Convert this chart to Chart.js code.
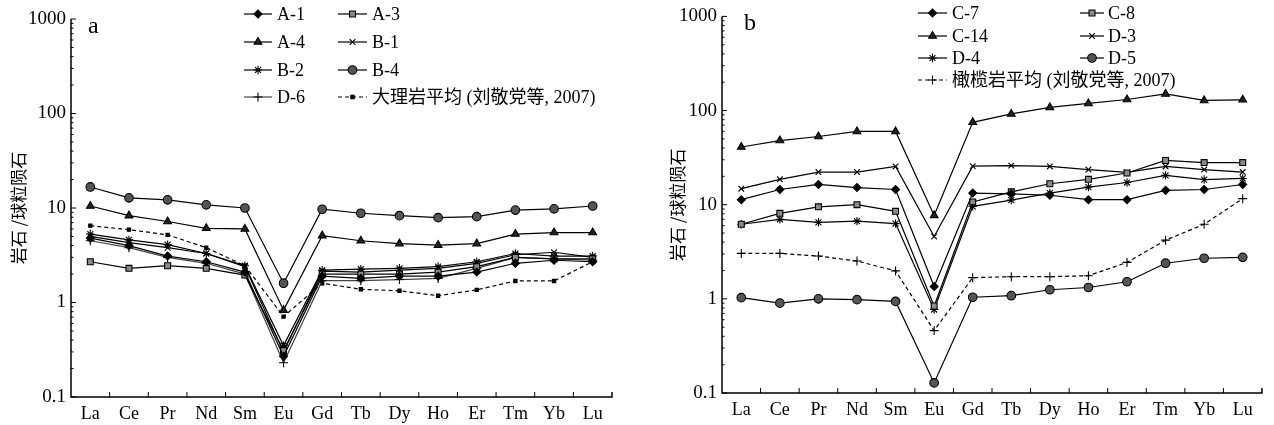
<!DOCTYPE html>
<html>
<head>
<meta charset="utf-8">
<script src="https://cdn.jsdelivr.net/npm/chart.js@4.4.1/dist/chart.umd.min.js"></script>
<style>
  html, body { margin: 0; padding: 0; background: #fff; }
  .panel { position: absolute; top: 0; width: 637px; height: 425px; }
  #pa { left: 0; }
  #pb { left: 637px; }
</style>
</head>
<body>
<div class="panel" id="pa"><canvas id="chartA"></canvas></div>
<div class="panel" id="pb"><canvas id="chartB"></canvas></div>
<script>
// REE elements (x categories)
const ELEMENTS = ['La', 'Ce', 'Pr', 'Nd', 'Sm', 'Eu', 'Gd', 'Tb', 'Dy', 'Ho', 'Er', 'Tm', 'Yb', 'Lu'];
const Y_TICKS = [0.1, 1, 10, 100, 1000];

// panel a: marble samples
const A1 = [4.8, 4.0, 3.1, 2.7, 2.1, 0.27, 1.9, 1.8, 1.9, 1.9, 2.1, 2.6, 2.8, 2.7];
const A3 = [2.7, 2.3, 2.45, 2.3, 1.95, 0.31, 2.0, 2.0, 2.0, 2.1, 2.4, 3.0, 2.9, 2.9];
const A4 = [10.5, 8.3, 7.2, 6.1, 6.0, 0.83, 5.1, 4.5, 4.2, 4.05, 4.2, 5.3, 5.5, 5.5];
const B1 = [5.0, 4.3, 3.8, 3.3, 2.4, 0.30, 2.15, 2.1, 2.2, 2.3, 2.6, 3.2, 3.4, 3.0];
const B2 = [5.3, 4.6, 4.1, 3.3, 2.45, 0.35, 2.2, 2.25, 2.3, 2.4, 2.7, 3.3, 3.1, 3.1];
const B4 = [16.7, 12.8, 12.2, 10.8, 10.0, 1.6, 9.7, 8.8, 8.3, 7.9, 8.1, 9.5, 9.8, 10.5];
const D6 = [4.5, 3.8, 3.0, 2.6, 2.0, 0.23, 1.7, 1.7, 1.75, 1.8, 2.3, 3.0, 2.9, 2.8];
const MARBLE_AVG = [6.5, 5.9, 5.2, 3.8, 2.45, 0.71, 1.6, 1.38, 1.33, 1.18, 1.36, 1.69, 1.69, 2.7];

// panel b: peridotite samples
const C7 = [11.3, 14.5, 16.4, 15.2, 14.5, 1.35, 13.3, 13.0, 12.6, 11.3, 11.3, 14.2, 14.5, 16.4];
const C8 = [6.2, 8.1, 9.5, 10.0, 8.5, 0.84, 10.7, 13.7, 16.7, 18.6, 21.7, 29.5, 28, 28];
const C14 = [41, 48, 53, 60, 60, 7.7, 75, 92, 108, 119, 131, 150, 128, 130];
const D3 = [14.8, 18.6, 22.2, 22.2, 25.5, 4.6, 25.7, 26, 25.5, 23.6, 22, 25.5, 23.6, 22.2];
const D4 = [6.2, 7.0, 6.5, 6.7, 6.3, 0.77, 9.6, 11.2, 13.3, 15.4, 17.2, 20.5, 18.5, 19];
const D5 = [1.03, 0.9, 1.0, 0.98, 0.94, 0.128, 1.04, 1.08, 1.25, 1.32, 1.52, 2.39, 2.7, 2.76];
const PERIDOTITE_AVG = [3.04, 3.04, 2.85, 2.52, 1.98, 0.46, 1.68, 1.72, 1.72, 1.76, 2.44, 4.2, 6.2, 11.6];

const SERIF = '"Liberation Serif", "Times New Roman", "Noto Sans CJK SC", serif';
const CJK = '"Noto Sans CJK SC", "Liberation Serif", serif';

// marker styles
const MK = {
  diamond: { pointStyle: 'rectRot', pointRadius: 4, pointBackgroundColor: '#000' },
  square: { pointStyle: 'rect', pointRadius: 4.2, pointBackgroundColor: '#8a8a8a' },
  triangle: { pointStyle: 'triangle', pointRadius: 4.5, pointBackgroundColor: '#222' },
  xcross: { pointStyle: 'crossRot', pointRadius: 4, pointBackgroundColor: '#000' },
  star: { pointStyle: 'star', pointRadius: 4.2, pointBackgroundColor: '#000' },
  circle: { pointStyle: 'circle', pointRadius: 4.3, pointBackgroundColor: '#555' },
  plus: { pointStyle: 'cross', pointRadius: 4.5, pointBackgroundColor: '#000' },
  dash: { pointStyle: 'rect', pointRadius: 2.3, pointBackgroundColor: '#000' }
};

function series(label, data, mk, dashed, color) {
  return Object.assign({
    label, data,
    borderColor: color || '#000',
    pointBorderColor: '#000',
    borderWidth: 1.2,
    pointBorderWidth: 1.1,
    borderDash: dashed ? [4, 3] : [],
    tension: 0,
    fill: false
  }, MK[mk]);
}

// axis frame: left + bottom lines with inward ticks
const framePlugin = {
  id: 'frame',
  afterDraw(chart) {
    const { ctx, chartArea: a, scales } = chart;
    ctx.save();
    ctx.strokeStyle = '#000';
    ctx.lineWidth = 1.5;
    ctx.beginPath();
    ctx.moveTo(a.left, a.top);
    ctx.lineTo(a.left, a.bottom);
    ctx.lineTo(a.right, a.bottom);
    ctx.lineTo(a.right, a.bottom - 5);
    ctx.stroke();
    ctx.lineWidth = 1;
    ctx.beginPath();
    Y_TICKS.forEach(v => {
      const y = scales.y.getPixelForValue(v);
      ctx.moveTo(a.left, y); ctx.lineTo(a.left + 5, y);
    });
    for (let d = 0.1; d < 1000; d *= 10) {
      for (let m = 2; m <= 9; m++) {
        const y = scales.y.getPixelForValue(d * m);
        ctx.moveTo(a.left, y); ctx.lineTo(a.left + 2.5, y);
      }
    }
    const n = ELEMENTS.length;
    for (let i = 1; i < n; i++) {
      const x = (scales.x.getPixelForValue(i - 1) + scales.x.getPixelForValue(i)) / 2;
      ctx.moveTo(x, a.bottom); ctx.lineTo(x, a.bottom - 5);
    }
    ctx.stroke();
    ctx.restore();
  }
};

// hand placed legend + panel letter
const legendPlugin = {
  id: 'placedLegend',
  afterDraw(chart, args, opts) {
    const { ctx } = chart;
    ctx.save();
    ctx.fillStyle = '#000';
    ctx.font = '24px ' + SERIF;
    ctx.textBaseline = 'alphabetic';
    ctx.fillText(opts.letter, opts.letterX, opts.letterY);
    opts.items.forEach(it => {
      const ds = chart.data.datasets[it.i];
      ctx.strokeStyle = ds.borderColor;
      ctx.lineWidth = 1.2;
      ctx.setLineDash(ds.borderDash || []);
      ctx.beginPath();
      ctx.moveTo(it.x1, it.y);
      ctx.lineTo(it.x2, it.y);
      ctx.stroke();
      ctx.setLineDash([]);
      ctx.fillStyle = ds.pointBackgroundColor;
      ctx.strokeStyle = '#000';
      ctx.lineWidth = 1.1;
      Chart.helpers.drawPoint(ctx, {
        pointStyle: ds.pointStyle, radius: ds.pointRadius, rotation: 0, borderWidth: 1.1
      }, (it.x1 + it.x2) / 2, it.y);
      ctx.fillStyle = '#000';
      ctx.font = opts.fontSize + 'px ' + SERIF;
      ctx.textBaseline = 'middle';
      ctx.fillText(ds.label, it.tx, it.y + 1);
    });
    ctx.restore();
  }
};

function makeOptions(pad, yWidth, legendOpts) {
  return {
    responsive: false,
    animation: false,
    layout: { padding: pad },
    plugins: {
      legend: { display: false },
      tooltip: { enabled: false },
      placedLegend: legendOpts
    },
    scales: {
      x: {
        type: 'category',
        offset: true,
        grid: { display: false, drawTicks: false },
        border: { display: false },
        ticks: { color: '#000', padding: 6, font: { family: SERIF, size: 18 }, maxRotation: 0, autoSkip: false },
        afterFit(s) { s.height = 28; }
      },
      y: {
        type: 'logarithmic',
        min: 0.1,
        max: 1000,
        grid: { display: false, drawTicks: false },
        border: { display: false },
        afterBuildTicks(s) { s.ticks = Y_TICKS.map(v => ({ value: v })); },
        ticks: {
          color: '#000', padding: 5,
          font: { family: SERIF, size: 19 },
          callback: v => String(v)
        },
        title: {
          display: true,
          text: '岩石 /球粒陨石',
          color: '#000',
          font: { family: CJK, size: 17 },
          padding: { top: 8, bottom: 0 }
        },
        afterFit(s) { s.width = yWidth; }
      }
    }
  };
}

function rows(cols, ys, order) {
  const out = [];
  order.forEach((i, k) => {
    const c = cols[k % 2];
    out.push({ i, x1: c[0], x2: c[1], tx: c[2], y: ys[Math.floor(k / 2)] });
  });
  return out;
}

function sizeCanvas(id) {
  const c = document.getElementById(id);
  c.width = 637; c.height = 425;
  c.style.width = '637px'; c.style.height = '425px';
  return c;
}

new Chart(sizeCanvas('chartA'), {
  type: 'line',
  data: {
    labels: ELEMENTS,
    datasets: [
      series('A-1', A1, 'diamond'),
      series('A-3', A3, 'square'),
      series('A-4', A4, 'triangle'),
      series('B-1', B1, 'xcross'),
      series('B-2', B2, 'star'),
      series('B-4', B4, 'circle'),
      series('D-6', D6, 'plus', false, '#444'),
      series('大理岩平均 (刘敬党等, 2007)', MARBLE_AVG, 'dash', true)
    ]
  },
  options: makeOptions({ left: 0, right: 25, top: 19, bottom: 0 }, 71, {
    letter: 'a', letterX: 88, letterY: 33, fontSize: 18,
    items: rows([[244, 272, 277], [338, 367, 372]], [14, 42, 70, 97], [0, 1, 2, 3, 4, 5, 6, 7])
  }),
  plugins: [framePlugin, legendPlugin]
});

new Chart(sizeCanvas('chartB'), {
  type: 'line',
  data: {
    labels: ELEMENTS,
    datasets: [
      series('C-7', C7, 'diamond'),
      series('C-8', C8, 'square'),
      series('C-14', C14, 'triangle'),
      series('D-3', D3, 'xcross'),
      series('D-4', D4, 'star'),
      series('D-5', D5, 'circle'),
      series('橄榄岩平均 (刘敬党等, 2007)', PERIDOTITE_AVG, 'plus', true)
    ]
  },
  options: makeOptions({ left: 22, right: 12, top: 16, bottom: 4 }, 63, {
    letter: 'b', letterX: 107, letterY: 30, fontSize: 18,
    items: rows([[281, 310, 315], [443, 467, 471]], [13, 36, 58, 80], [0, 1, 2, 3, 4, 5, 6])
  }),
  plugins: [framePlugin, legendPlugin]
});
</script>
</body>
</html>
